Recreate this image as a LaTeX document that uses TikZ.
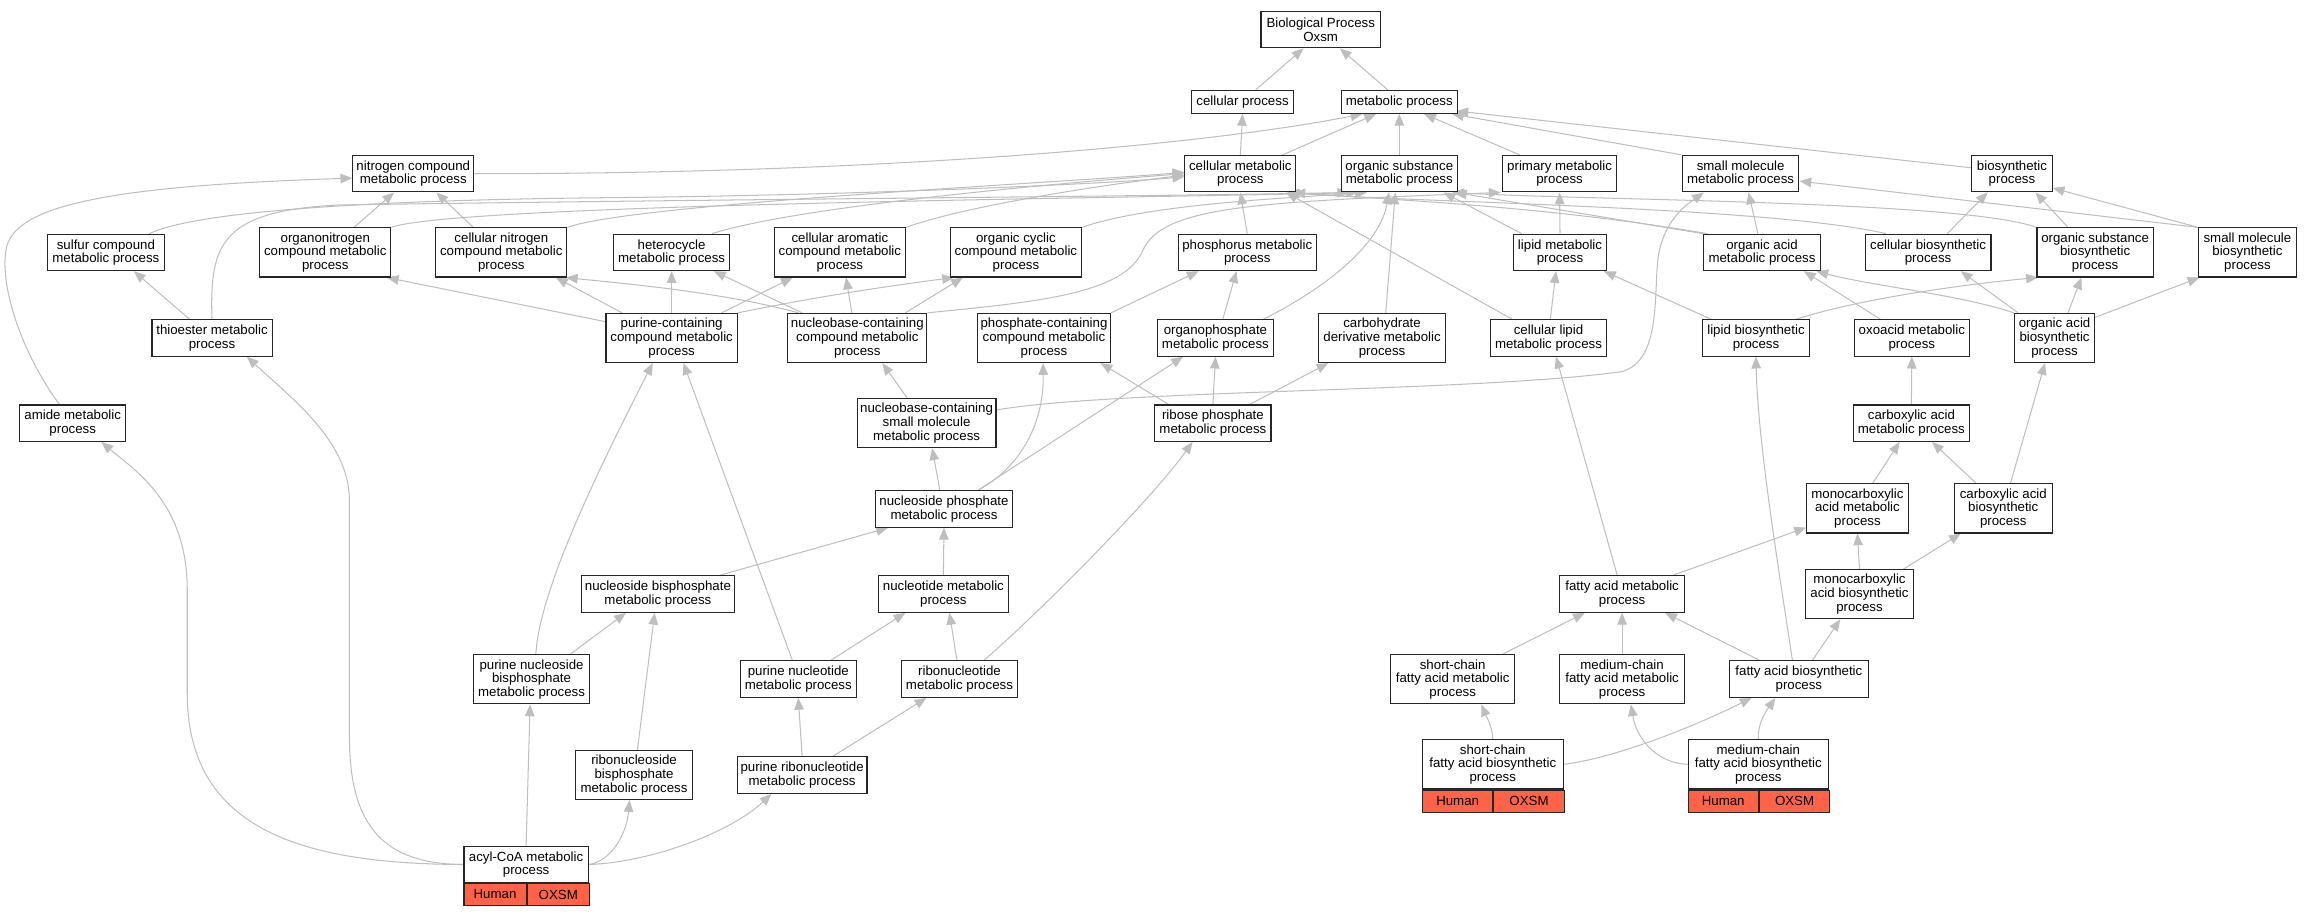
\documentclass[tikz,border=0pt]{standalone}
\usepackage{fontspec}
\setmainfont{Liberation Sans}
\usetikzlibrary{arrows.meta}
\definecolor{edgec}{RGB}{190,190,190}
\definecolor{tomato}{RGB}{255,99,71}
\pgfdeclarelayer{bg}
\pgfsetlayers{bg,main}
\tikzset{
  gobox/.style={draw=black!85, line width=0.75pt, fill=white, inner sep=0pt, align=center,
    font=\fontsize{9pt}{9.3pt}\selectfont},
  lone/.style={minimum height=15.6pt},
  ltwo/.style={minimum height=24.7pt},
  lthree/.style={minimum height=33.3pt},
  cellbox/.style={draw=black!85, line width=0.75pt, fill=tomato, inner sep=0pt, minimum height=14.9pt,
    font=\fontsize{9pt}{9.3pt}\selectfont, anchor=north west},
  goedge/.style={draw=edgec, line width=0.7pt, -{Triangle[length=8pt,width=6.5pt]}}
}
\begin{document}
\begin{tikzpicture}[x=1pt,y=-1pt]
\useasboundingbox (0,0) rectangle (1568,620.5);
% rank 0-2
\node[gobox,ltwo,minimum width=81pt] (bp) at (895.7,20.1) {Biological Process\\Oxsm};
\node[gobox,lone,minimum width=69pt] (cp) at (842.7,69.1) {cellular process};
\node[gobox,lone,minimum width=78.7pt] (mp) at (949,69.1) {metabolic process};
\node[gobox,ltwo,minimum width=82pt] (nc) at (280.3,117.8) {nitrogen compound\\metabolic process};
\node[gobox,ltwo,minimum width=75.2pt] (cm) at (841.2,117.8) {cellular metabolic\\process};
\node[gobox,ltwo,minimum width=78.7pt] (os) at (949,117.8) {organic substance\\metabolic process};
\node[gobox,ltwo,minimum width=77.3pt] (pr) at (1057.7,117.8) {primary metabolic\\process};
\node[gobox,ltwo,minimum width=79pt] (sm) at (1180.5,117.8) {small molecule\\metabolic process};
\node[gobox,ltwo,minimum width=54.5pt] (bs) at (1364.5,117.8) {biosynthetic\\process};
% rank 3
\node[gobox,ltwo,minimum width=79pt] (sc) at (71.8,171.2) {sulfur compound\\metabolic process};
\node[gobox,lthree,minimum width=88.8pt] (on) at (220.6,171.2) {organonitrogen\\compound metabolic\\process};
\node[gobox,lthree,minimum width=88.8pt] (cn) at (340,171.2) {cellular nitrogen\\compound metabolic\\process};
\node[gobox,ltwo,minimum width=79pt] (hc) at (455.5,171.2) {heterocycle\\metabolic process};
\node[gobox,lthree,minimum width=88.8pt] (ca) at (569.6,171.2) {cellular aromatic\\compound metabolic\\process};
\node[gobox,lthree,minimum width=88.8pt] (oc) at (689,171.2) {organic cyclic\\compound metabolic\\process};
\node[gobox,ltwo,minimum width=93.4pt] (pm) at (845.9,171.2) {phosphorus metabolic\\process};
\node[gobox,ltwo,minimum width=63.3pt] (lm) at (1058,171.2) {lipid metabolic\\process};
\node[gobox,ltwo,minimum width=79pt] (oa) at (1195,171.2) {organic acid\\metabolic process};
\node[gobox,ltwo,minimum width=85.4pt] (cb) at (1307.6,171.2) {cellular biosynthetic\\process};
\node[gobox,lthree,minimum width=78.8pt] (osb) at (1420.9,171.2) {organic substance\\biosynthetic\\process};
\node[gobox,lthree,minimum width=66.4pt] (smb) at (1524.2,171.2) {small molecule\\biosynthetic\\process};
% rank 4
\node[gobox,ltwo,minimum width=81.5pt] (te) at (143.8,229.2) {thioester metabolic\\process};
\node[gobox,lthree,minimum width=89pt] (pc) at (455.5,229.2) {purine-containing\\compound metabolic\\process};
\node[gobox,lthree,minimum width=94.2pt] (nbc) at (581.4,229.2) {nucleobase-containing\\compound metabolic\\process};
\node[gobox,lthree,minimum width=90.3pt] (pcc) at (708,229.2) {phosphate-containing\\compound metabolic\\process};
\node[gobox,ltwo,minimum width=79pt] (op) at (824.3,229.2) {organophosphate\\metabolic process};
\node[gobox,lthree,minimum width=86pt] (cd) at (937.3,229.2) {carbohydrate\\derivative metabolic\\process};
\node[gobox,ltwo,minimum width=79pt] (cl) at (1050.2,229.2) {cellular lipid\\metabolic process};
\node[gobox,ltwo,minimum width=72.8pt] (lb) at (1190.9,229.2) {lipid biosynthetic\\process};
\node[gobox,ltwo,minimum width=78pt] (ox) at (1296.6,229.2) {oxoacid metabolic\\process};
\node[gobox,lthree,minimum width=54.5pt] (oab) at (1393.4,229.2) {organic acid\\biosynthetic\\process};
% rank 5
\node[gobox,ltwo,minimum width=71.6pt] (am) at (49.3,287) {amide metabolic\\process};
\node[gobox,lthree,minimum width=94.2pt] (nbsm) at (628.4,287) {nucleobase-containing\\small molecule\\metabolic process};
\node[gobox,ltwo,minimum width=78.8pt] (rp) at (822.6,287) {ribose phosphate\\metabolic process};
\node[gobox,ltwo,minimum width=79pt] (cam) at (1296.3,287) {carboxylic acid\\metabolic process};
% rank 6
\node[gobox,ltwo,minimum width=92.4pt] (np) at (640.2,345.2) {nucleoside phosphate\\metabolic process};
\node[gobox,lthree,minimum width=69pt] (mam) at (1259.7,344.8) {monocarboxylic\\acid metabolic\\process};
\node[gobox,lthree,minimum width=66.4pt] (cab) at (1358.6,344.8) {carboxylic acid\\biosynthetic\\process};
% rank 7
\node[gobox,ltwo,minimum width=104pt] (nbp) at (446.2,402.9) {nucleoside bisphosphate\\metabolic process};
\node[gobox,ltwo,minimum width=88pt] (nt) at (639.8,402.9) {nucleotide metabolic\\process};
\node[gobox,ltwo,minimum width=84.4pt] (fa) at (1100.1,402.9) {fatty acid metabolic\\process};
\node[gobox,lthree,minimum width=73.5pt] (mab) at (1261.1,403) {monocarboxylic\\acid biosynthetic\\process};
% rank 8
\node[gobox,lthree,minimum width=79pt] (pnb) at (360.5,460.7) {purine nucleoside\\bisphosphate\\metabolic process};
\node[gobox,ltwo,minimum width=79pt] (pn) at (541.4,460.6) {purine nucleotide\\metabolic process};
\node[gobox,ltwo,minimum width=79pt] (rn) at (650.7,460.6) {ribonucleotide\\metabolic process};
\node[gobox,lthree,minimum width=84.3pt] (scm) at (985.2,460.7) {short-chain\\fatty acid metabolic\\process};
\node[gobox,lthree,minimum width=84.4pt] (mcm) at (1100.1,460.7) {medium-chain\\fatty acid metabolic\\process};
\node[gobox,ltwo,minimum width=94pt] (fab) at (1220,460.6) {fatty acid biosynthetic\\process};
% rank 9
\node[gobox,lthree,minimum width=78.8pt] (rnb) at (430,525.6) {ribonucleoside\\bisphosphate\\metabolic process};
\node[gobox,ltwo,minimum width=88pt] (prn) at (544,525.7) {purine ribonucleotide\\metabolic process};
\node[gobox,minimum height=33.5pt,minimum width=95.3pt] (scb) at (1012.4,518.35) {short-chain\\fatty acid biosynthetic\\process};
\node[cellbox,minimum width=47.65pt] (scbH) at (scb.south west) {Human};
\node[cellbox,minimum width=47.65pt] (scbO) at (scbH.north east) {OXSM};
\node[gobox,minimum height=33.5pt,minimum width=95.3pt] (mcb) at (1192.5,518.35) {medium-chain\\fatty acid biosynthetic\\process};
\node[cellbox,minimum width=47.65pt] (mcbH) at (mcb.south west) {Human};
\node[cellbox,minimum width=47.65pt] (mcbO) at (mcbH.north east) {OXSM};
% rank 10
\node[gobox,minimum height=24.2pt,minimum width=84.3pt] (acyl) at (356.8,586.3) {acyl-CoA metabolic\\process};
\node[cellbox,minimum width=42.15pt] (acylH) at (acyl.south west) {Human};
\node[cellbox,minimum width=42.15pt] (acylO) at (acylH.north east) {OXSM};

\begin{pgfonlayer}{bg}
\draw[goedge] ([xshift=8.9pt]cp.north) -- ([xshift=-11.7pt]bp.south);
\draw[goedge] ([xshift=-7.9pt]mp.north) -- ([xshift=13pt]bp.south);
\draw[goedge] (cm.north) -- (cp.south);
\draw[goedge] ([xshift=28.6pt]cm.north) -- ([xshift=-15.7pt]mp.south);
\draw[goedge] (os.north) -- (mp.south);
\draw[goedge] ([xshift=-27pt]pr.north) -- ([xshift=16.8pt]mp.south);
\draw[goedge] (sm.north west) -- ([xshift=-4pt]mp.south east);
\draw[goedge] ([yshift=4pt]bs.west) -- ([xshift=-1pt,yshift=2pt]mp.south east);
\draw[goedge] (nc.east) .. controls (600,118) and (820,98) .. ([xshift=-25pt]mp.south);
\draw[goedge] ([xshift=29.4pt]sc.north) .. controls (140,140) and (300,135) .. (420,134) .. controls (600,132) and (760,124) .. ([yshift=-2pt]cm.west);
\draw[goedge] ([xshift=19.5pt]on.north) -- ([xshift=-13pt]nc.south);
\draw[goedge] (on.north east) .. controls (310,138) and (800,134) .. ([xshift=-28pt]os.south);
\draw[goedge] ([xshift=-19pt]cn.north) -- ([xshift=15.6pt]nc.south);
\draw[goedge] (cn.north east) .. controls (430,138) and (720,124) .. ([yshift=1pt]cm.west);
\draw[goedge] ([xshift=27.4pt]hc.north) .. controls (540,140) and (720,124) .. (cm.west);
\draw[goedge] (ca.north east) .. controls (660,138) and (760,124) .. ([yshift=-1pt]cm.west);
\draw[goedge] (oc.north east) .. controls (780,138) and (880,134) .. ([xshift=-22pt]os.south);
\draw[goedge] (pm.north) -- (cm.south);
\draw[goedge] (lm.north) -- (pr.south);
\draw[goedge] ([xshift=-26pt]lm.north) -- ([xshift=30pt]os.south);
\draw[goedge] ([xshift=-2.8pt]oa.north) -- ([xshift=5.3pt]sm.south);
\draw[goedge] (oa.north west) -- ([xshift=-2pt]os.south east);
\draw[goedge] ([xshift=3pt]oa.north west) .. controls (1050,140) and (950,136) .. ([xshift=-2pt]cm.south east);
\draw[goedge] ([xshift=13pt]cb.north) -- ([xshift=-16.5pt]bs.south);
\draw[goedge] ([xshift=-28.4pt]cb.north) .. controls (1200,140) and (950,137) .. ([xshift=32pt]cm.south);
\draw[goedge] ([xshift=-18.4pt]osb.north) -- ([xshift=15.9pt]bs.south);
\draw[goedge] (osb.north west) .. controls (1330,136) and (1080,136) .. ([xshift=36pt]os.south);
\draw[goedge] (smb.north west) -- ([yshift=3pt]bs.south east);
\draw[goedge] (smb.north west) -- ([yshift=-5pt]sm.east);
\draw[goedge] ([xshift=-9pt]am.north) .. controls (15,240) and (0,195) .. (4,170) .. controls (8,138) and (80,126) .. ([yshift=-3pt]nc.west);
\draw[goedge] ([xshift=-15.3pt]te.north) -- ([xshift=19pt]sc.south);
\draw[goedge] (te.north) .. controls (142,165) and (150,143) .. (230,139) .. controls (500,135) and (800,133) .. ([xshift=-34pt]os.south);
\draw[goedge] ([yshift=-6pt]pc.north west) -- ([xshift=-3pt]on.south east);
\draw[goedge] ([xshift=-33.6pt]pc.north) -- ([xshift=37pt]cn.south);
\draw[goedge] (pc.north) -- (hc.south);
\draw[goedge] ([xshift=33.9pt]pc.north) -- ([xshift=-32pt]ca.south);
\draw[goedge] (pc.north east) .. controls (560,200) and (610,193) .. ([xshift=-42pt]oc.south);
\draw[goedge] ([xshift=-40pt]nbc.north) .. controls (490,198) and (420,192) .. ([xshift=-1pt]cn.south east);
\draw[goedge] ([xshift=-37.4pt]nbc.north) -- ([xshift=28.7pt]hc.south);
\draw[goedge] ([xshift=-3.7pt]nbc.north) -- ([xshift=4.2pt]ca.south);
\draw[goedge] ([xshift=32.6pt]nbc.north) -- ([xshift=-36pt]oc.south);
\draw[goedge] (nbc.north east) .. controls (700,205) and (762,200) .. (775,170) .. controls (788,140) and (850,137) .. ([xshift=-40pt]pr.south);
\draw[goedge] (pcc.north east) -- ([xshift=-33pt]pm.south);
\draw[goedge] ([xshift=5pt]op.north) -- ([xshift=-7.3pt]pm.south);
\draw[goedge] ([xshift=32.5pt]op.north) .. controls (890,200) and (935,170) .. ([xshift=-7pt]os.south);
\draw[goedge] ([xshift=2.5pt]cd.north) -- ([xshift=-2.7pt]os.south);
\draw[goedge] ([xshift=1.2pt]cl.north) -- ([xshift=-2.7pt]lm.south);
\draw[goedge] ([xshift=-24.7pt]cl.north) -- ([xshift=31pt]cm.south);
\draw[goedge] ([xshift=-30.5pt]lb.north) -- ([xshift=29.8pt]lm.south);
\draw[goedge] ([xshift=27.3pt]lb.north) .. controls (1260,203) and (1330,193) .. ([xshift=1pt]osb.south west);
\draw[goedge] ([xshift=-21.3pt]ox.north) -- ([xshift=28.4pt]oa.south);
\draw[goedge] (oab.north west) .. controls (1330,200) and (1270,194) .. ([xshift=-3pt]oa.south east);
\draw[goedge] ([xshift=-24.7pt]oab.north) -- ([xshift=22.2pt]cb.south);
\draw[goedge] ([xshift=9.1pt]oab.north) -- ([xshift=-9.3pt]osb.south);
\draw[goedge] ([yshift=-3pt]oab.north east) -- ([xshift=1pt]smb.south west);
\draw[goedge] ([xshift=-13.1pt]nbsm.north) -- ([xshift=17pt]nbc.south);
\draw[goedge] ([yshift=9pt]nbsm.east) .. controls (760,264) and (1000,266) .. (1100,252) .. controls (1125,245) and (1122,205) .. (1124,180) .. controls (1126,150) and (1145,138) .. ([xshift=-25pt]sm.south);
\draw[goedge] ([xshift=-30pt]rp.north) -- ([xshift=38.4pt]pcc.south);
\draw[goedge] (rp.north) -- (op.south);
\draw[goedge] ([xshift=25pt]rp.north) -- ([xshift=-36.4pt]cd.south);
\draw[goedge] (cam.north) -- (ox.south);
\draw[goedge] ([xshift=-2.8pt]np.north) -- ([xshift=3.8pt]nbsm.south);
\draw[goedge] ([xshift=23.1pt]np.north) .. controls (690,318) and (708,290) .. ([xshift=-0.6pt]pcc.south);
\draw[goedge] ([xshift=23.1pt]np.north) -- ([xshift=-22pt]op.south);
\draw[goedge] ([xshift=10.4pt]mam.north) -- ([xshift=-8pt]cam.south);
\draw[goedge] ([xshift=-18.4pt]cab.north) -- ([xshift=14pt]cam.south);
\draw[goedge] ([xshift=4.9pt]cab.north) -- ([xshift=-6.5pt]oab.south);
\draw[goedge] ([xshift=41.9pt]nbp.north) -- ([xshift=-37.9pt]np.south);
\draw[goedge] (nt.north) -- (np.south);
\draw[goedge] ([xshift=-3.3pt]fa.north) -- ([xshift=5.1pt]cl.south);
\draw[goedge] ([xshift=34.4pt]fa.north) -- ([yshift=-13pt]mam.west);
\draw[goedge] (mab.north) -- (mam.south);
\draw[goedge] ([xshift=29.8pt]mab.north) -- ([xshift=-28.8pt]cab.south);
\draw[goedge] ([xshift=2.9pt]pnb.north) .. controls (366,400) and (405,320) .. ([xshift=-12.8pt]pc.south);
\draw[goedge] ([xshift=26.2pt]pnb.north) -- ([xshift=-21.7pt]nbp.south);
\draw[goedge] ([xshift=-4pt]pn.north) -- ([xshift=8pt]pc.south);
\draw[goedge] ([xshift=22pt]pn.north) -- ([xshift=-25.8pt]nt.south);
\draw[goedge] ([xshift=-1.7pt]rn.north) -- ([xshift=4.1pt]nt.south);
\draw[goedge] ([xshift=16.5pt]rn.north) .. controls (700,420) and (780,340) .. ([xshift=-13.8pt]rp.south);
\draw[goedge] ([xshift=33.8pt]scm.north) -- ([xshift=-25.3pt]fa.south);
\draw[goedge] (mcm.north) -- (fa.south);
\draw[goedge] ([xshift=-26.5pt]fab.north) -- ([xshift=29.2pt]fa.south);
\draw[goedge] ([xshift=9.1pt]fab.north) -- ([xshift=-13pt]mab.south);
\draw[goedge] ([xshift=-4.4pt]fab.north) .. controls (1207,390) and (1192,300) .. (lb.south);
\draw[goedge] ([xshift=2.3pt]rnb.north) -- ([xshift=-2.2pt]nbp.south);
\draw[goedge] (prn.north) -- (pn.south);
\draw[goedge] ([xshift=20.7pt]prn.north) -- ([xshift=-22.4pt]rn.south);
\draw[goedge] (scb.north) .. controls (1012,492) and (1008,486) .. ([xshift=19.5pt]scm.south);
\draw[goedge] (scb.east) .. controls (1090,515) and (1140,497) .. ([xshift=-32pt]fab.south);
\draw[goedge] (mcb.west) .. controls (1125,518) and (1110,502) .. ([xshift=6pt]mcm.south);
\draw[goedge] (mcb.north) .. controls (1192,490) and (1198,482) .. ([xshift=-16pt]fab.south);
\draw[goedge] (acyl.north) -- ([xshift=-1pt]pnb.south);
\draw[goedge] (acyl.east) .. controls (415,584) and (425,565) .. ([xshift=-3pt]rnb.south);
\draw[goedge] (acyl.east) .. controls (440,585) and (495,565) .. ([xshift=-20.8pt]prn.south);
\draw[goedge] (acyl.west) .. controls (200,586) and (127,560) .. (127,470) -- (127,400) .. controls (127,340) and (90,318) .. ([xshift=19.5pt]am.south);
\draw[goedge] (acyl.west) .. controls (260,586) and (237,560) .. (237,500) -- (237,340) .. controls (237,300) and (200,272) .. ([xshift=23.6pt]te.south);
\end{pgfonlayer}
\end{tikzpicture}
\end{document}
